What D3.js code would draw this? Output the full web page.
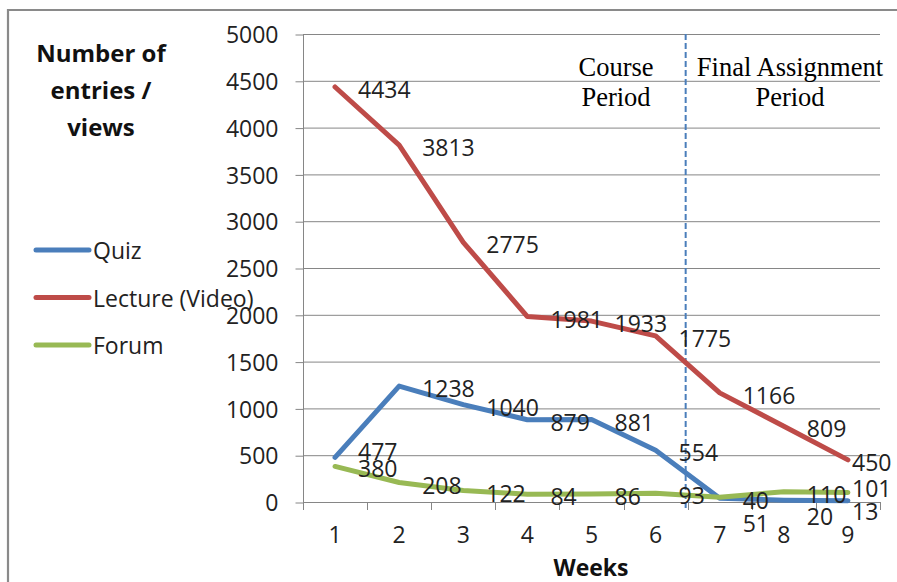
<!DOCTYPE html>
<html><head><meta charset="utf-8">
<script src="https://cdn.jsdelivr.net/npm/d3@7"></script>
<style>
html,body{margin:0;padding:0;background:#fff;}
svg text{font-family:"Open Sans",Lato,sans-serif;}
</style></head>
<body><svg id="c" width="897" height="582"></svg>
<script>
const weeks = [1,2,3,4,5,6,7,8,9];
const quiz = [477,1238,1040,879,881,554,40,20,13];
const lecture = [4434,3813,2775,1981,1933,1775,1166,809,450];
const forum = [380,208,122,84,86,93,51,110,101];
const yTicks = [0,500,1000,1500,2000,2500,3000,3500,4000,4500,5000];
const seriesNames = ["Quiz","Lecture (Video)","Forum"];
const seriesColors = ["#4A7EBB","#BE4B48","#98B954"];
const titleLines = ["Number of","entries /","views"];
const xTitle = "Weeks";
const periodLeft = ["Course","Period"];
const periodRight = ["Final Assignment","Period"];
const splitWeek = 7;

const series = [quiz, lecture, forum];
const svg = d3.select("#c");
const FS = 23;
const TXT = "#222";

// outer frame
svg.append("path").attr("d","M8,582V10H897").attr("fill","none").attr("stroke","#8a8a8a").attr("stroke-width",2.2);

const x = d3.scaleBand().domain(weeks).range([303,880]);
const y = d3.scaleLinear().domain([0,5000]).range([502,34]);

// gridlines
svg.append("g").selectAll("line").data(yTicks.filter(d=>d>0)).join("line")
  .attr("x1",303).attr("x2",880).attr("y1",d=>y(d)+0.5).attr("y2",d=>y(d)+0.5)
  .attr("stroke","#868686").attr("stroke-width",1);

// y axis
const ya = svg.append("g").attr("transform","translate(303.5,0.5)")
  .call(d3.axisLeft(y).tickValues(yTicks).tickSize(8).tickPadding(17).tickFormat(d3.format("d")));
ya.select(".domain").attr("stroke","#868686").attr("d","M0,"+y(5000)+"V"+y(0));
ya.selectAll(".tick line").attr("stroke","#868686");
ya.selectAll(".tick text").attr("font-size",FS).attr("fill",TXT).attr("font-family","'Open Sans',sans-serif").attr("dy","0.36em");

// x axis
const xa = svg.append("g").attr("transform","translate(0,"+(y(0)+0.5)+")")
  .call(d3.axisBottom(x).tickSize(0).tickPadding(24));
xa.select(".domain").attr("stroke","#868686").attr("d","M303,0H880");
xa.selectAll(".tick text").attr("font-size",FS).attr("fill",TXT).attr("font-family","'Open Sans',sans-serif");
const bounds = weeks.map(w=>x(w)).concat([x(weeks[weeks.length-1])+x.step()]);
svg.append("g").selectAll("line").data(bounds).join("line")
  .attr("x1",d=>Math.round(d)+0.5).attr("x2",d=>Math.round(d)+0.5)
  .attr("y1",y(0)).attr("y2",y(0)+8).attr("stroke","#868686");

// dashed split line
const sx = x(splitWeek)-2;
svg.append("line").attr("x1",sx).attr("x2",sx).attr("y1",y(5000)).attr("y2",y(0)+8)
  .attr("stroke","#4A7EBB").attr("stroke-width",2).attr("stroke-dasharray","6,3");

// lines
const cx = d=>x(d)+x.step()/2;
const line = d3.line().x((d,i)=>cx(weeks[i])).y(d=>y(d));
series.forEach((s,k)=>{
  svg.append("path").datum(s).attr("d",line).attr("fill","none")
    .attr("stroke",seriesColors[k]).attr("stroke-width",5).attr("stroke-linejoin","round").attr("stroke-linecap","round");
});

// data labels (nudges avoid overlaps, as in original)
const nudge = {"0-1":-8,"0-8":14,"0-9":8,"2-7":24,"2-9":-7};
series.forEach((s,k)=>{
  s.forEach((v,i)=>{
    const t = svg.append("text").text(v).attr("font-size",FS).attr("fill",TXT)
      .attr("dominant-baseline","central");
    const lx = Math.min(cx(weeks[i]) + 23, 852);
    const dy = nudge[k+"-"+weeks[i]] || 0;
    t.attr("x",lx).attr("y",y(v)+2+dy);
  });
});

// title
svg.append("g").selectAll("text").data(titleLines).join("text")
  .attr("x",101).attr("y",(d,i)=>52+i*37).attr("text-anchor","middle").attr("dominant-baseline","central")
  .attr("font-weight","bold").attr("font-size",24).attr("fill","#111").text(d=>d);

// legend
const lg = svg.append("g").selectAll("g").data(seriesNames).join("g")
  .attr("transform",(d,i)=>"translate(0,"+(250+i*47.5)+")");
lg.append("line").attr("x1",36).attr("x2",89).attr("stroke",(d,i)=>seriesColors[i]).attr("stroke-width",5).attr("stroke-linecap","round");
lg.append("text").attr("x",93).attr("dominant-baseline","central").attr("font-size",FS).attr("fill",TXT).text(d=>d);

// x title
svg.append("text").attr("x",591).attr("y",567).attr("text-anchor","middle").attr("dominant-baseline","central")
  .attr("font-weight","bold").attr("font-size",FS).attr("fill","#111").text(xTitle);

// period annotations
const serif = "'Liberation Serif','Times New Roman',serif";
svg.append("g").selectAll("text").data(periodLeft).join("text")
  .attr("x",616).attr("y",(d,i)=>67+i*30).attr("text-anchor","middle").attr("dominant-baseline","central")
  .style("font-family",serif).attr("font-size",26.5).attr("fill","#000").text(d=>d);
svg.append("g").selectAll("text").data(periodRight).join("text")
  .attr("x",790).attr("y",(d,i)=>67+i*30).attr("text-anchor","middle").attr("dominant-baseline","central")
  .style("font-family",serif).attr("font-size",26.5).attr("fill","#000").text(d=>d);
</script></body></html>
